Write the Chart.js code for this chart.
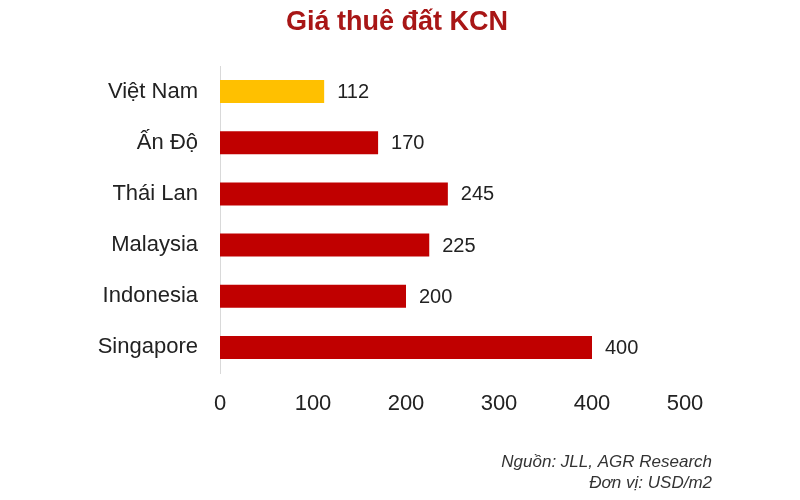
<!DOCTYPE html>
<html>
<head>
<meta charset="utf-8">
<script src="https://cdn.jsdelivr.net/npm/chart.js@4"></script>
<style>
  body { margin: 0; background: #fff; }
  #wrap { width: 800px; height: 500px; }
</style>
</head>
<body>
<div id="wrap"><canvas id="landChart" width="800" height="500"></canvas></div>
<script>
const chartTitle = 'Giá thuê đất KCN';
const countries = ['Việt Nam', 'Ấn Độ', 'Thái Lan', 'Malaysia', 'Indonesia', 'Singapore'];
const rentValues = [112, 170, 245, 225, 200, 400];
const barColors = ['#FFC000', '#C00000', '#C00000', '#C00000', '#C00000', '#C00000'];
const sourceLines = ['Nguồn: JLL, AGR Research', 'Đơn vị: USD/m2'];

const FONT = '"Liberation Sans", Arial, sans-serif';

// nhãn giá trị cạnh thanh
const valueLabels = {
    id: 'valueLabels',
    afterDatasetsDraw(chart) {
        const ctx = chart.ctx;
        const meta = chart.getDatasetMeta(0);
        ctx.save();
        ctx.font = '20px ' + FONT;
        ctx.fillStyle = '#222';
        ctx.textAlign = 'left';
        ctx.textBaseline = 'middle';
        meta.data.forEach(function(bar, i) {
            ctx.fillText(rentValues[i], bar.x + 13, bar.y + 1);
        });
        ctx.restore();
    }
};

// tiêu đề và ghi chú nguồn
const headerFooter = {
    id: 'headerFooter',
    afterDraw(chart) {
        const ctx = chart.ctx;
        ctx.save();
        ctx.font = 'bold 27px ' + FONT;
        ctx.fillStyle = '#A81616';
        ctx.textAlign = 'center';
        ctx.textBaseline = 'middle';
        ctx.fillText(chartTitle, 397, 23);

        ctx.font = 'italic 17px ' + FONT;
        ctx.fillStyle = '#333';
        ctx.textAlign = 'right';
        ctx.fillText(sourceLines[0], 712, 462);
        ctx.fillText(sourceLines[1], 712, 483);
        ctx.restore();
    }
};

new Chart(document.getElementById('landChart').getContext('2d'), {
    type: 'bar',
    data: {
        labels: countries,
        datasets: [{
            data: rentValues,
            backgroundColor: barColors,
            barPercentage: 0.45,
            categoryPercentage: 1
        }]
    },
    options: {
        indexAxis: 'y',
        responsive: false,
        animation: false,
        layout: {
            padding: { top: 66, left: 0, right: 115, bottom: 77 }
        },
        plugins: {
            legend: { display: false },
            tooltip: { enabled: false }
        },
        scales: {
            x: {
                min: 0,
                max: 500,
                ticks: {
                    stepSize: 100,
                    color: '#222',
                    padding: 18,
                    font: { family: FONT, size: 22 }
                },
                grid: { display: false, drawTicks: false },
                border: { display: false },
                afterFit(scale) { scale.height = 50; }
            },
            y: {
                ticks: {
                    color: '#222',
                    padding: 22,
                    font: { family: FONT, size: 22 }
                },
                grid: { display: false, drawTicks: false },
                border: { display: true, color: '#d9d9d9', width: 1 },
                afterFit(scale) { scale.width = 220; }
            }
        }
    },
    plugins: [valueLabels, headerFooter]
});
</script>
</body>
</html>
